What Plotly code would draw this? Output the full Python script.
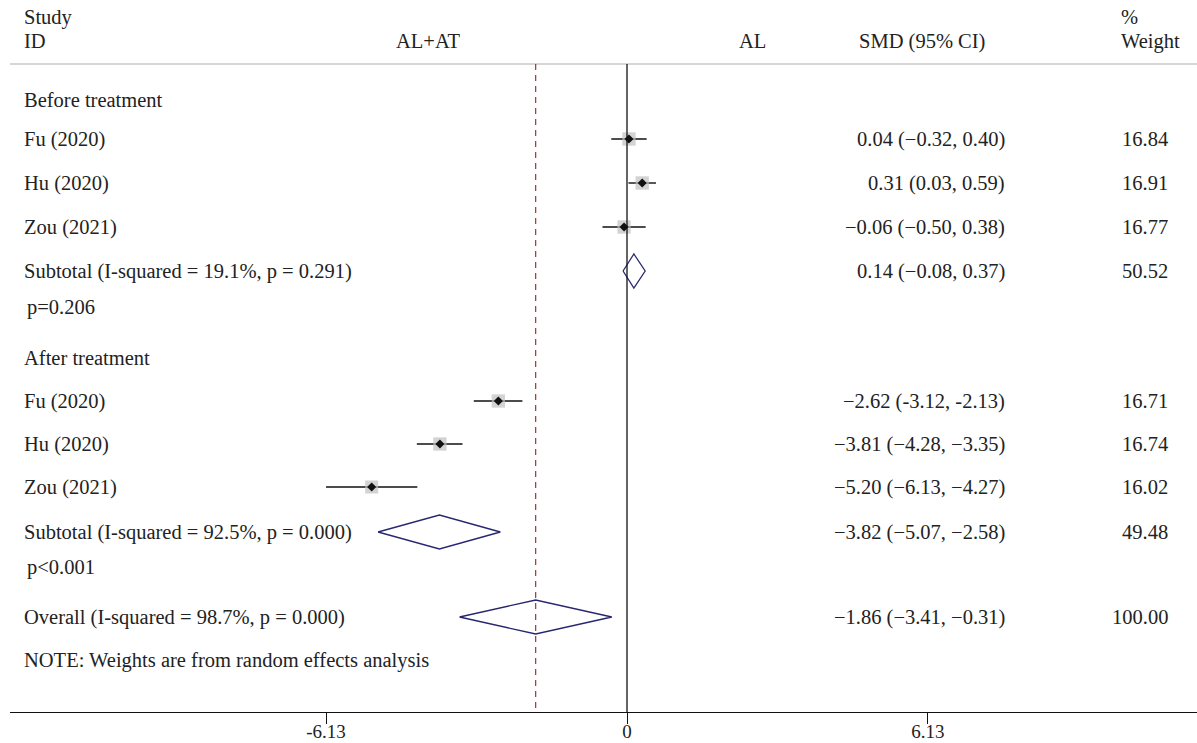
import plotly.graph_objects as go

# ---------------- data ----------------
studies = ["Fu (2020)", "Hu (2020)", "Zou (2021)"]
group_names = ["Before treatment", "After treatment"]

smd_before = [0.04, 0.31, -0.06]
lo_before = [-0.32, 0.03, -0.50]
hi_before = [0.40, 0.59, 0.38]
w_before = [16.84, 16.91, 16.77]
ci_text_before = ["0.04 (−0.32, 0.40)", "0.31 (0.03, 0.59)", "−0.06 (−0.50, 0.38)"]

smd_after = [-2.62, -3.81, -5.20]
lo_after = [-3.12, -4.28, -6.13]
hi_after = [-2.13, -3.35, -4.27]
w_after = [16.71, 16.74, 16.02]
ci_text_after = ["−2.62 (-3.12, -2.13)", "−3.81 (−4.28, −3.35)", "−5.20 (−6.13, −4.27)"]

sub_smd = [0.14, -3.82]
sub_lo = [-0.08, -5.07]
sub_hi = [0.37, -2.58]
sub_w = [50.52, 49.48]
sub_ci_text = ["0.14 (−0.08, 0.37)", "−3.82 (−5.07, −2.58)"]
sub_labels = ["Subtotal (I-squared = 19.1%, p = 0.291)", "Subtotal (I-squared = 92.5%, p = 0.000)"]
sub_p = ["p=0.206", "p<0.001"]

overall_smd = -1.86
overall_lo = -3.41
overall_hi = -0.31
overall_w = 100.00
overall_ci_text = "−1.86 (−3.41, −0.31)"
overall_label = "Overall (I-squared = 98.7%, p = 0.000)"
note_text = "NOTE: Weights are from random effects analysis"

tick_vals = [-6.13, 0, 6.13]
tick_text = ["-6.13", "0", "6.13"]

# ---------------- layout geometry ----------------
W, H = 1197, 743
PLOT_L, PLOT_B = 10, 31
PLOT_H = H - PLOT_B
ZERO_PX = 627
PX_PER_UNIT = 49.1
x_min = (PLOT_L - ZERO_PX) / PX_PER_UNIT
x_max = (W - ZERO_PX) / PX_PER_UNIT

# vertical row positions (pixels from top)
y_group = [100, 358]
y_rows = [[139, 183, 227], [401, 444, 487]]
y_sub = [271, 532]
y_p = [307, 567]
y_overall = 617
y_note = 660
y_header_line = 64

FONT = "Liberation Serif"
FS = 20.5
TXT = "#222222"
NAVY = "#272770"
DHALF = 17  # diamond half height


def px(xp):
    return (xp - PLOT_L) / (W - PLOT_L)


fig = go.Figure()

groups = [
    (smd_before, lo_before, hi_before, w_before, ci_text_before),
    (smd_after, lo_after, hi_after, w_after, ci_text_after),
]

annotations = []


def add_text(xpx, y, text, anchor="left"):
    annotations.append(dict(x=px(xpx), xref="paper", y=y, yref="y", text=text,
                            showarrow=False, xanchor=anchor, yanchor="middle",
                            font=dict(family=FONT, size=FS, color=TXT)))


for gi, (smd, lo, hi, w, cit) in enumerate(groups):
    ys = y_rows[gi]
    # CI lines
    lx, ly = [], []
    for l, h, y in zip(lo, hi, ys):
        lx += [l, h, None]
        ly += [y, y, None]
    fig.add_trace(go.Scatter(x=lx, y=ly, mode="lines",
                             line=dict(color="#111111", width=1.4),
                             hoverinfo="skip", showlegend=False))
    # weight squares
    fig.add_trace(go.Scatter(x=smd, y=ys, mode="markers",
                             marker=dict(symbol="square", color="#c0c0c0",
                                         size=[3.25 * (v ** 0.5) for v in w],
                                         line=dict(width=0)),
                             hoverinfo="skip", showlegend=False))
    # point estimates
    fig.add_trace(go.Scatter(x=smd, y=ys, mode="markers",
                             marker=dict(symbol="diamond", color="#111111", size=7),
                             hoverinfo="skip", showlegend=False))
    add_text(22, y_group[gi], group_names[gi])
    for name, y, t, wv in zip(studies, ys, cit, w):
        add_text(22, y, name)
        add_text(1007, y, t, "right")
        add_text(1170, y, f"{wv:.2f}", "right")
    add_text(22, y_sub[gi], sub_labels[gi])
    add_text(1007, y_sub[gi], sub_ci_text[gi], "right")
    add_text(1170, y_sub[gi], f"{sub_w[gi]:.2f}", "right")
    add_text(25, y_p[gi], sub_p[gi])

# diamonds (subtotals + overall)
dx, dy = [], []
for c, l, h, y in list(zip(sub_smd, sub_lo, sub_hi, y_sub)) + [(overall_smd, overall_lo, overall_hi, y_overall)]:
    dx += [l, c, h, c, l, None]
    dy += [y, y - DHALF, y, y + DHALF, y, None]
fig.add_trace(go.Scatter(x=dx, y=dy, mode="lines",
                         line=dict(color=NAVY, width=1.3),
                         hoverinfo="skip", showlegend=False))

add_text(22, y_overall, overall_label)
add_text(1007, y_overall, overall_ci_text, "right")
add_text(1170, y_overall, f"{overall_w:.2f}", "right")
add_text(22, y_note, note_text)

# header
add_text(22, 17, "Study")
add_text(22, 41, "ID")
add_text(428, 41, "AL+AT", "center")
add_text(752, 41, "AL", "center")
add_text(922, 41, "SMD (95% CI)", "center")
add_text(1119, 17, "%")
add_text(1119, 41, "Weight")

shapes = [
    dict(type="line", xref="paper", yref="y", x0=0, x1=1, y0=y_header_line, y1=y_header_line,
         line=dict(color="#c8c8c8", width=1.5)),
    dict(type="line", xref="x", yref="y", x0=0, x1=0, y0=y_header_line, y1=PLOT_H,
         line=dict(color="#111111", width=1.3)),
    dict(type="line", xref="x", yref="y", x0=overall_smd, x1=overall_smd, y0=y_header_line, y1=PLOT_H,
         line=dict(color="#a0303c", width=1.2, dash="6px,5px")),
]

fig.update_layout(
    width=W, height=H,
    margin=dict(l=PLOT_L, r=0, t=0, b=PLOT_B),
    paper_bgcolor="white", plot_bgcolor="white",
    showlegend=False,
    annotations=annotations,
    shapes=shapes,
    xaxis=dict(range=[x_min, x_max], showgrid=False, zeroline=False,
               showline=True, linecolor="#111111", linewidth=1.3,
               ticks="outside", ticklen=11, tickwidth=1, tickcolor="#111111",
               tickvals=tick_vals, ticktext=tick_text, ticklabelstandoff=-9,
               tickfont=dict(family=FONT, size=19, color=TXT), fixedrange=True,
               automargin=False),
    yaxis=dict(range=[PLOT_H, 0], visible=False, fixedrange=True),
)

fig.write_html("out.html")
